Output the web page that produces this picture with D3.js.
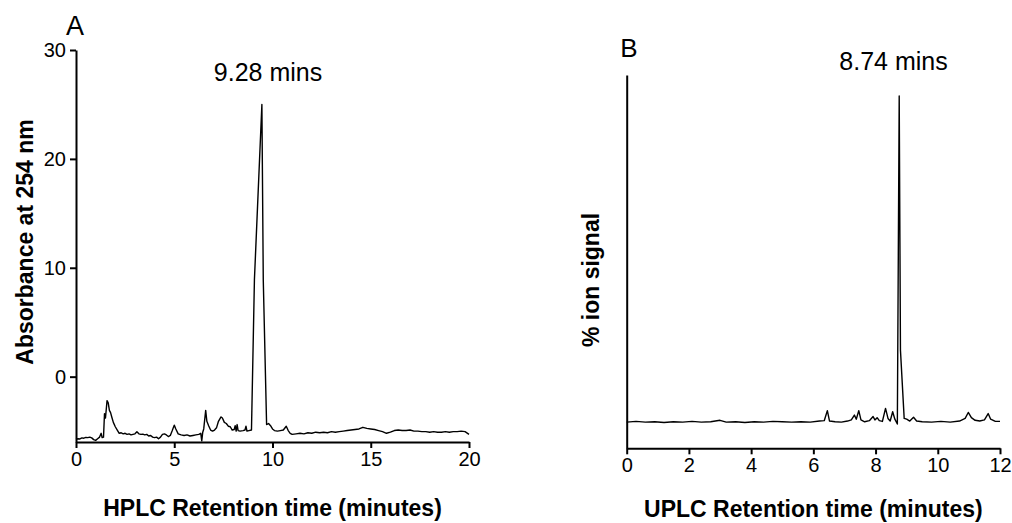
<!DOCTYPE html>
<html>
<head>
<meta charset="utf-8">
<script src="https://d3js.org/d3.v7.min.js"></script>
<style>
  html, body { margin: 0; padding: 0; background: #fff; }
  svg { display: block; font-family: "Liberation Sans", Arial, Helvetica, sans-serif; }
</style>
</head>
<body>
<svg id="chart" width="1012" height="523"></svg>
<script>
// ---- Panel A: HPLC trace ----
const hplcTime = [0.00,0.10,0.20,0.30,0.40,0.50,0.60,0.70,0.80,0.90,1.00,1.10,1.20,1.28,1.33,1.40,1.45,1.50,1.58,1.64,1.70,1.76,1.82,1.90,2.00,2.10,2.20,2.30,2.40,2.50,2.60,2.70,2.80,2.90,3.00,3.10,3.20,3.30,3.40,3.50,3.60,3.70,3.80,3.90,4.00,4.10,4.20,4.30,4.40,4.50,4.60,4.70,4.80,4.90,5.00,5.08,5.20,5.35,5.50,5.65,5.80,5.95,6.10,6.25,6.35,6.40,6.45,6.50,6.60,6.66,6.75,6.85,6.95,7.05,7.15,7.25,7.38,7.45,7.55,7.65,7.75,7.85,7.95,8.05,8.10,8.15,8.20,8.25,8.35,8.50,8.60,8.65,8.70,8.80,8.93,9.08,9.46,9.53,9.70,9.80,9.90,10.00,10.10,10.25,10.40,10.55,10.70,10.80,10.90,11.00,11.20,11.40,11.60,11.80,12.00,12.20,12.40,12.60,12.80,13.00,13.20,13.40,13.60,13.80,14.00,14.20,14.40,14.60,14.80,15.00,15.20,15.40,15.60,15.80,16.00,16.20,16.40,16.60,16.80,17.00,17.20,17.40,17.60,17.80,18.00,18.20,18.40,18.60,18.80,19.00,19.20,19.40,19.60,19.80,20.00];
const hplcAbs = [-5.75,-5.70,-5.72,-5.62,-5.65,-5.58,-5.60,-5.55,-5.62,-5.78,-5.85,-5.70,-5.55,-5.20,-5.60,-5.55,-3.40,-3.80,-2.20,-2.40,-3.10,-3.30,-3.70,-4.20,-4.60,-4.90,-5.20,-5.15,-5.25,-5.20,-5.30,-5.25,-5.35,-5.30,-5.25,-5.05,-5.25,-5.30,-5.28,-5.35,-5.30,-5.45,-5.40,-5.55,-5.60,-5.55,-5.70,-5.55,-5.30,-5.25,-5.35,-5.50,-5.40,-4.95,-4.45,-4.80,-5.25,-5.35,-5.40,-5.35,-5.45,-5.40,-5.35,-5.30,-5.20,-5.90,-5.10,-4.80,-3.10,-4.10,-4.50,-4.90,-5.00,-4.90,-4.70,-4.10,-3.70,-3.80,-4.20,-4.30,-4.55,-4.60,-4.90,-4.85,-4.50,-5.00,-4.40,-4.95,-5.00,-4.95,-4.90,-4.55,-5.00,-4.95,-4.90,8.90,25.00,8.90,-4.40,-4.30,-4.50,-4.80,-4.95,-5.00,-4.95,-4.90,-4.55,-4.95,-5.20,-5.30,-5.25,-5.20,-5.25,-5.15,-5.20,-5.10,-5.15,-5.10,-5.15,-5.05,-5.10,-5.05,-5.00,-4.95,-4.90,-4.85,-4.80,-4.65,-4.75,-4.80,-4.85,-4.95,-5.05,-5.20,-5.10,-4.95,-4.90,-4.95,-4.95,-4.90,-5.00,-5.00,-5.05,-5.05,-5.10,-5.05,-5.10,-5.10,-5.05,-5.10,-5.05,-5.05,-5.00,-5.05,-5.30];
const hplcXTicks = [0, 5, 10, 15, 20];
const hplcYTicks = [0, 10, 20, 30];

// ---- Panel B: UPLC trace ----
const uplcTime = [0.0,0.3,0.6,0.9,1.2,1.5,1.8,2.1,2.4,2.7,3.0,3.2,3.5,3.8,4.1,4.4,4.7,5.0,5.3,5.6,5.9,6.2,6.35,6.45,6.52,6.7,6.9,7.1,7.22,7.32,7.38,7.46,7.53,7.65,7.8,7.92,7.98,8.05,8.12,8.22,8.32,8.40,8.47,8.55,8.62,8.70,8.76,8.80,8.92,9.00,9.10,9.22,9.32,9.5,9.8,10.1,10.4,10.7,10.88,10.98,11.08,11.2,11.35,11.5,11.62,11.70,11.85,12.0];
const uplcSignal = [7.0,7.2,7.0,7.1,6.9,7.1,7.0,7.2,7.0,7.1,7.5,7.0,7.1,6.9,7.1,7.0,7.2,7.1,7.0,7.1,7.0,7.3,7.4,10.1,7.3,7.1,7.0,7.3,7.6,8.9,7.8,10.1,7.6,7.1,7.4,8.5,7.6,8.2,7.4,7.2,10.7,8.0,7.3,9.8,7.8,6.5,94.4,26.3,8.0,7.8,7.3,8.3,7.3,7.1,7.0,7.2,7.0,7.3,8.0,9.6,8.2,7.5,7.3,7.6,9.3,7.8,7.2,7.2];
const uplcXTicks = [0, 2, 4, 6, 8, 10, 12];

// ---- Labels ----
const panelLabels = ["A", "B"];
const peakLabels = ["9.28 mins", "8.74 mins"];
const xTitles = ["HPLC Retention time (minutes)", "UPLC Retention time (minutes)"];
const yTitles = ["Absorbance at 254 nm", "% ion signal"];

const svg = d3.select("#chart");

function styleAxis(g) {
  g.selectAll(".domain").attr("stroke", "#000").attr("stroke-width", 2);
  g.selectAll(".tick line").attr("stroke", "#000").attr("stroke-width", 2);
  g.selectAll(".tick text").attr("fill", "#000").style("font-size", "20px")
    .style("font-family", '"Liberation Sans", Arial, Helvetica, sans-serif');
}

// Panel A
{
  const x = d3.scaleLinear().domain([0, 20]).range([76, 469]);
  const y = d3.scaleLinear().domain([-6, 30]).range([442, 50]);
  const data = hplcTime.map((t, i) => [t, hplcAbs[i]]);
  svg.append("path").datum(data)
    .attr("fill", "none").attr("stroke", "#000").attr("stroke-width", 1.4)
    .attr("stroke-linejoin", "round")
    .attr("d", d3.line().x(d => x(d[0])).y(d => y(d[1])));
  const gx = svg.append("g").attr("transform", `translate(0,${y(-6)})`)
    .call(d3.axisBottom(x).tickValues(hplcXTicks).tickSize(6).tickSizeOuter(0).tickPadding(4).tickFormat(d3.format("d")));
  styleAxis(gx);
  const gy = svg.append("g").attr("transform", `translate(${x(0)},0)`)
    .call(d3.axisLeft(y).tickValues(hplcYTicks).tickSize(6).tickSizeOuter(0).tickPadding(4).tickFormat(d3.format("d")));
  styleAxis(gy);
  svg.append("text").attr("x", 75).attr("y", 35).attr("text-anchor", "middle")
    .style("font-size", "27px").text(panelLabels[0]);
  svg.append("text").attr("x", 268).attr("y", 81).attr("text-anchor", "middle")
    .style("font-size", "25px").text(peakLabels[0]);
  svg.append("text").attr("x", (x(0) + x(20)) / 2).attr("y", 516).attr("text-anchor", "middle")
    .style("font-size", "23px").style("font-weight", "bold").text(xTitles[0]);
  svg.append("text").attr("transform", `translate(33,242) rotate(-90)`).attr("text-anchor", "middle")
    .style("font-size", "23px").style("font-weight", "bold").text(yTitles[0]);
}

// Panel B
{
  const x = d3.scaleLinear().domain([0, 12]).range([626.7, 1000]);
  const y = d3.scaleLinear().domain([0, 100]).range([448.3, 75]);
  const data = uplcTime.map((t, i) => [t, uplcSignal[i]]);
  svg.append("path").datum(data)
    .attr("fill", "none").attr("stroke", "#000").attr("stroke-width", 1.4)
    .attr("stroke-linejoin", "round")
    .attr("d", d3.line().x(d => x(d[0])).y(d => y(d[1])));
  const gx = svg.append("g").attr("transform", `translate(0,${y(0)})`)
    .call(d3.axisBottom(x).tickValues(uplcXTicks).tickSize(6).tickSizeOuter(0).tickPadding(4).tickFormat(d3.format("d")));
  styleAxis(gx);
  const gy = svg.append("g").attr("transform", `translate(${x(0)},0)`)
    .call(d3.axisLeft(y).tickValues([]).tickSizeOuter(0));
  styleAxis(gy);
  svg.append("text").attr("x", 629).attr("y", 57).attr("text-anchor", "middle")
    .style("font-size", "26px").text(panelLabels[1]);
  svg.append("text").attr("x", 893.5).attr("y", 70).attr("text-anchor", "middle")
    .style("font-size", "25px").text(peakLabels[1]);
  svg.append("text").attr("x", (x(0) + x(12)) / 2).attr("y", 517).attr("text-anchor", "middle")
    .style("font-size", "23px").style("font-weight", "bold").text(xTitles[1]);
  svg.append("text").attr("transform", `translate(599,280) rotate(-90)`).attr("text-anchor", "middle")
    .style("font-size", "23px").style("font-weight", "bold").text(yTitles[1]);
}
</script>
</body>
</html>
